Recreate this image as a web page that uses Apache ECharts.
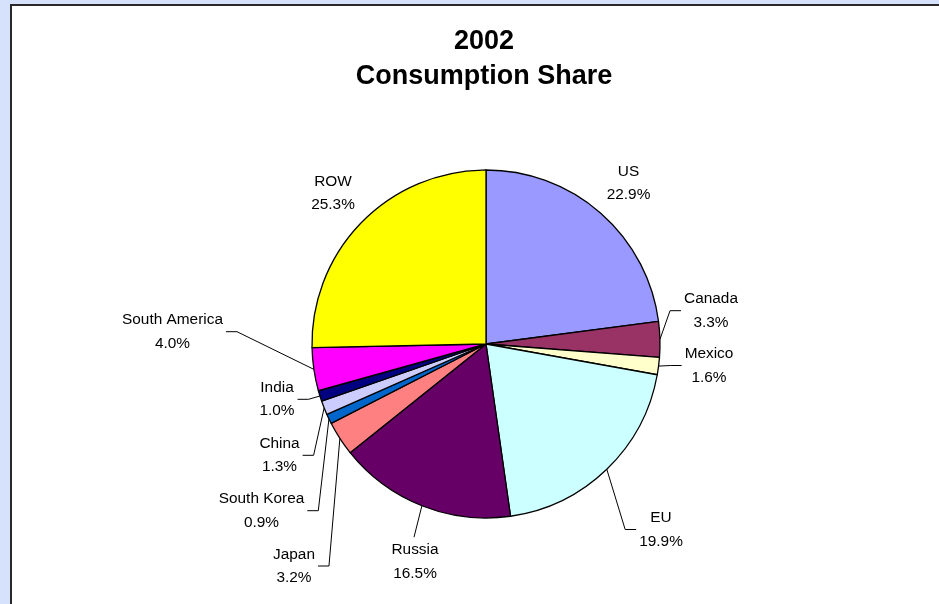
<!DOCTYPE html>
<html><head><meta charset="utf-8">
<script src="https://cdn.jsdelivr.net/npm/echarts@6/dist/echarts.min.js"></script>
<style>html,body{margin:0;padding:0;background:#d6e2fb;}#c{width:939px;height:604px;}</style>
</head><body><div id="c"></div>
<script>
const categories = ['US','Canada','Mexico','EU','Russia','Japan','South Korea','China','India','South America','ROW'];
const shares = [22.9,3.3,1.6,19.9,16.5,3.2,0.9,1.3,1.0,4.0,25.3];
const sliceColors = ['#9999FF','#993366','#FFFFCC','#CCFFFF','#660066','#FF8080','#0066CC','#CCCCFF','#000080','#FF00FF','#FFFF00'];
const titleLines = ['2002','Consumption Share'];

// label placement: centre of each two-line label block (px) and leader type
const labelCenters = [[628.5,183],[711,310.7],[709,365.5],[661,529.5],[415,561.7],[294,566],[261.5,510.7],[279.5,455.3],[277,399.3],[172.5,331.7],[333,193]];
const leaderType = ['none','side','side','side','top','side','side','side','side','side','none'];

const FONT = '"Liberation Sans", Arial, sans-serif';
const chart = echarts.init(document.getElementById('c'), null, {renderer:'canvas'});

const data = categories.map((n,i)=>({
  name:n, value:shares[i],
  itemStyle:{color:sliceColors[i]},
  labelLine:{show: leaderType[i] !== 'none'}
}));

chart.setOption({
  animation:false,
  backgroundColor:'#d6e2fb',
  graphic:[
    {type:'rect', z:-10, silent:true, shape:{x:11,y:5,width:960,height:640},
     style:{fill:'#ffffff', stroke:'#2a2a2a', lineWidth:2}},
    {type:'text', z:10, x:484, y:24,
     style:{text:titleLines.join('\n'), fontSize:27, fontWeight:'bold', fontFamily:FONT,
            lineHeight:35, align:'center', verticalAlign:'top', fill:'#000'}}
  ],
  series:[{
    type:'pie',
    center:[486,344],
    radius:174,
    startAngle:90,
    clockwise:true,
    avoidLabelOverlap:false,
    itemStyle:{borderColor:'#000', borderWidth:1.3},
    emphasis:{disabled:true},
    label:{
      show:true, position:'outside', color:'#000', fontSize:15.4, fontFamily:FONT, lineHeight:23.5,
      formatter:p=>p.name+'\n'+p.value.toFixed(1)+'%'
    },
    labelLine:{show:true, length:5, length2:5, smooth:false, lineStyle:{color:'#000', width:1}},
    labelLayout:function(p){
      const i = p.dataIndex;
      const cx = labelCenters[i][0], cy = labelCenters[i][1];
      const w = p.labelRect.width, h = p.labelRect.height;
      const res = {x:cx, y:cy, align:'center', verticalAlign:'middle', hideOverlap:false};
      if (p.labelLinePoints && leaderType[i] !== 'none') {
        const s = p.labelLinePoints[0];
        if (leaderType[i] === 'top') {
          const e = [cx-1, cy-h/2-1];
          res.labelLinePoints = [s, e, e];
        } else if (cx < s[0]) {
          const e = [cx + w/2 + 3, cy];
          res.labelLinePoints = [s, [e[0]+11, cy], e];
        } else {
          const e = [cx - w/2 - 3, cy];
          res.labelLinePoints = [s, [e[0]-11, cy], e];
        }
      }
      return res;
    },
    data:data
  }]
});
</script></body></html>
